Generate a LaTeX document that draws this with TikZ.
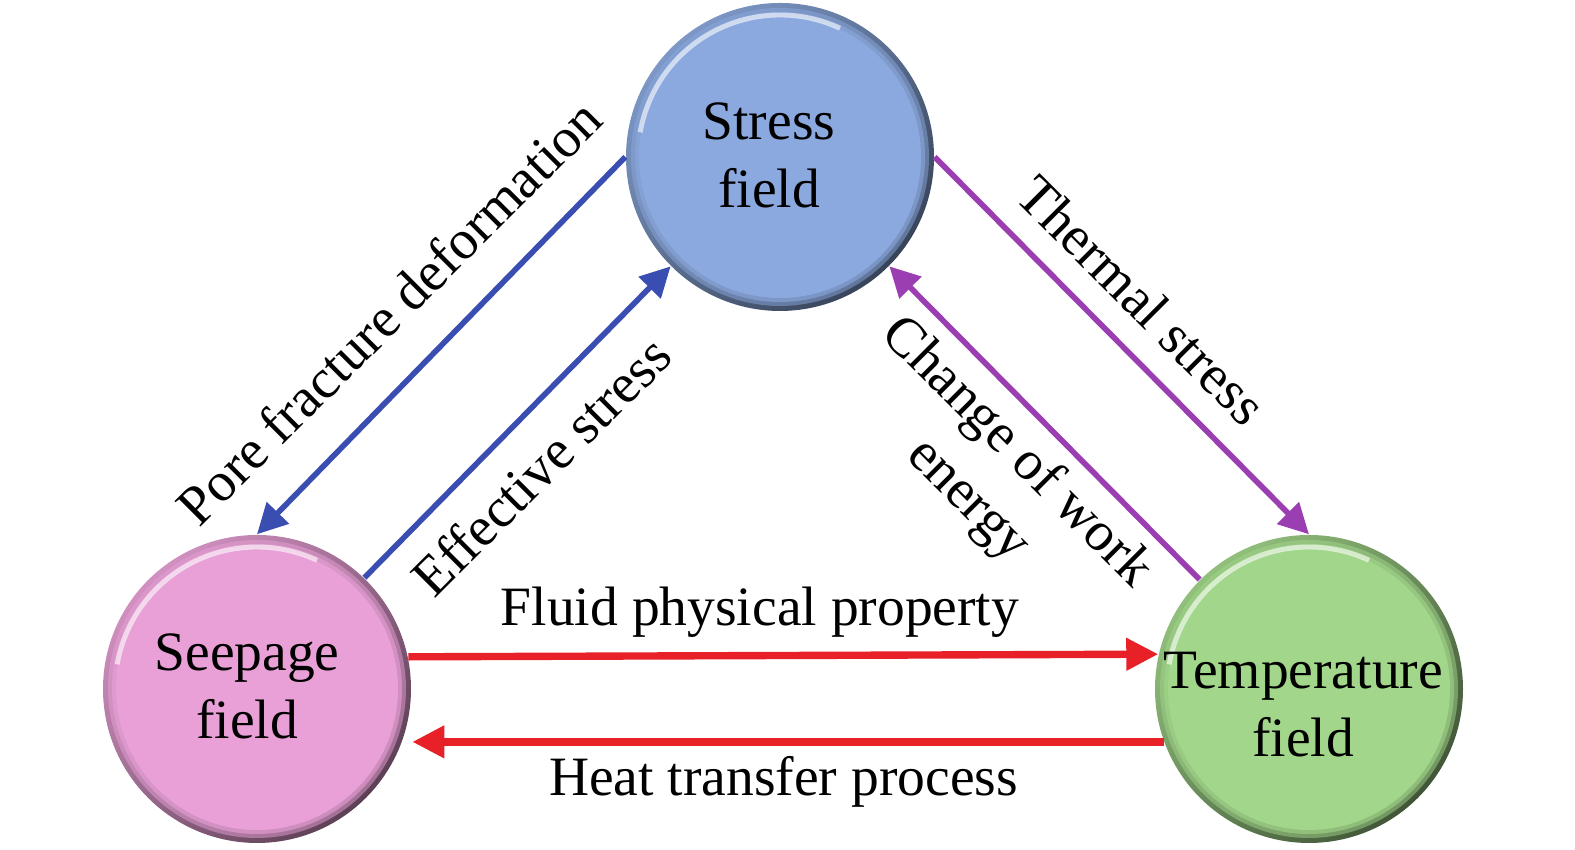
\documentclass[tikz,border=0pt]{standalone}
\usepackage{fontspec}
\setmainfont{Liberation Serif}
\usetikzlibrary{arrows.meta}
\definecolor{stressc}{RGB}{139,169,222}
\definecolor{seepc}{RGB}{232,160,214}
\definecolor{tempc}{RGB}{162,214,138}
\definecolor{arrblue}{RGB}{58,78,178}
\definecolor{arrpurp}{RGB}{155,62,178}
\definecolor{arrred}{RGB}{232,32,40}
\tikzset{
  ball/.style={circle, minimum size=3.08cm, inner sep=0pt,
    top color=#1!90!black, bottom color=#1!40!black, shading angle=45,
    path picture={
      \fill[#1, opacity=0.5] (path picture bounding box.center) circle (1.49cm);
      \fill[#1, opacity=0.6] (path picture bounding box.center) circle (1.45cm);
      \fill[#1] (path picture bounding box.center) circle (1.41cm);
      \draw[white, opacity=0.6, line width=1.4pt]
        ([shift={(65:1.42cm)}]path picture bounding box.center) arc (65:170:1.42cm);
    }},
  ctext/.style={align=center, inner sep=0pt, font=\fontsize{15.8}{19.3}\selectfont},
  lbl/.style={inner sep=0pt, font=\fontsize{15.8}{19.3}\selectfont},
  bluearr/.style={draw=arrblue, line width=1.6pt, -{Triangle[length=0.3cm,width=0.3cm]}},
  purparr/.style={draw=arrpurp, line width=1.6pt, -{Triangle[length=0.3cm,width=0.3cm]}},
  redarr/.style={draw=arrred, line width=2.1pt, -{Triangle[length=0.32cm,width=0.31cm]}}
}
\begin{document}
\begin{tikzpicture}
\useasboundingbox (0,0) rectangle (15.75,8.5);
% circles
\node[ball=stressc] (St) at (7.80,6.93) {};
\node[ball=seepc] (Se) at (2.57,1.61) {};
\node[ball=tempc] (Te) at (13.09,1.61) {};
\node[ctext] (StT) at (7.69,6.95) {Stress\\field};
\node[ctext] (SeT) at (2.47,1.64) {Seepage\\field};
\node[ctext] (TeT) at (13.03,1.45) {Temperature\\field};
% connectors
\draw[bluearr] (St.west) -- (Se.north);
\draw[bluearr] (Se.46) -- (St.225);
\draw[purparr] (St.east) -- (Te.north);
\draw[purparr] (Te.135) -- (St.-45);
\draw[redarr] (Se.12.75) -- (Te.167.25);
\draw[redarr, shorten >=0.1cm] (Te.200.5) -- (Se.-20.5);
% labels
\node[lbl, rotate=45] (LPore) at (3.89,5.38) {Pore fracture deformation};
\node[lbl, rotate=45] (LEff) at (5.41,3.84) {Effective stress};
\node[lbl, rotate=-45] (LTherm) at (11.42,5.50) {Thermal stress};
\node[lbl, rotate=-45, align=center] (LWork) at (9.92,3.73) {Change of work\\energy};
\node[lbl, anchor=base] (LFluid) at (7.60,2.245) {Fluid physical property};
\node[lbl, anchor=base] (LHeat) at (7.835,0.54) {Heat transfer process};
\end{tikzpicture}
\end{document}
